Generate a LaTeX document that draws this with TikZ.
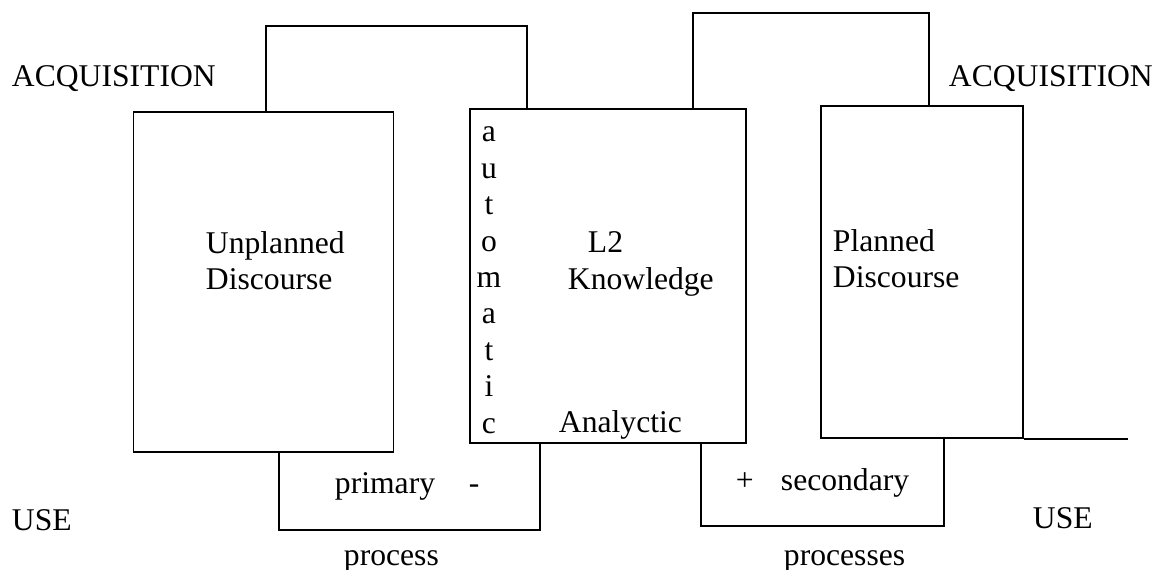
\documentclass[tikz,border=0pt]{standalone}
\usepackage{fontspec}
\setmainfont{Liberation Serif}
\usepackage{tikz}
\usetikzlibrary{calc}

\tikzset{
    box/.style={draw=black, line width=1.1pt, inner sep=0pt},
    txt/.style={inner sep=0pt, align=left, font=\fontsize{18}{20.5}\selectfont}
}

\begin{document}
\begin{tikzpicture}[x=0.02cm, y=-0.02cm, line width=1.1pt]
        \useasboundingbox (0,0) rectangle (1159,570);

        \node[box, minimum width=5.2cm, minimum height=6.8cm] (unplanned) at (263.5,282) {};
        \node[box, minimum width=5.52cm, minimum height=6.68cm] (knowledge) at (608,276) {};
        \node[box, minimum width=4.04cm, minimum height=6.64cm] (planned) at (922,272) {};

        \coordinate (acqA) at (266,26);
        \coordinate (acqB) at (527,26);
        \coordinate (acqC) at (693,13);
        \coordinate (acqD) at (929,13);
        \coordinate (useA) at (279,530);
        \coordinate (useB) at (540,530);
        \coordinate (useC) at (701,526);
        \coordinate (useD) at (944,526);
        \coordinate (tail) at (1128,0);

        \draw[black] (unplanned.north -| acqA) -- (acqA) -- (acqB) -- (knowledge.north -| acqB);
        \draw[black] (knowledge.north -| acqC) -- (acqC) -- (acqD) -- (planned.north -| acqD);
        \draw[black] (unplanned.south -| useA) -- (useA) -- (useB) -- (knowledge.south -| useB);
        \draw[black] (knowledge.south -| useC) -- (useC) -- (useD) -- (planned.south -| useD);
        \draw[black] (planned.south east) -- (planned.south east -| tail);

        \node[txt, anchor=base west] (acqleft) at (11,87) {ACQUISITION};
        \node[txt, anchor=base west] (acqright) at (948,87) {ACQUISITION};
        \node[txt, anchor=base west] (useleft) at (11,530) {USE};
        \node[txt, anchor=base west] (useright) at (1032,528) {USE};

        \node[txt, anchor=base west] (unplannedtext) at (205,290) {Unplanned\\Discourse};
        \node[txt, anchor=base west] (plannedtext) at (832,288) {Planned\\Discourse};
        \node[txt, anchor=base west] (ltwo) at (587,253) {L2};
        \node[txt, anchor=base west] (knowtext) at (567,290) {Knowledge};
        \node[txt, anchor=base west] (analytic) at (558,433) {Analyctic};

        \foreach \ch [count=\i from 0] in {a,u,t,o,m,a,t,i,c}
            \node[txt, anchor=base] (auto\i) at (489,{142+36.4*\i}) {\ch};

        \node[txt, anchor=base west] (primary) at (334,493) {primary};
        \node[txt, anchor=base west] (minus) at (468,493) {-};
        \node[txt, anchor=base west] (plus) at (735,490) {+};
        \node[txt, anchor=base west] (secondary) at (780,490) {secondary};
        \node[txt, anchor=base west] (process) at (343,565) {process};
        \node[txt, anchor=base west] (processes) at (783,565) {processes};
\end{tikzpicture}
\end{document}
